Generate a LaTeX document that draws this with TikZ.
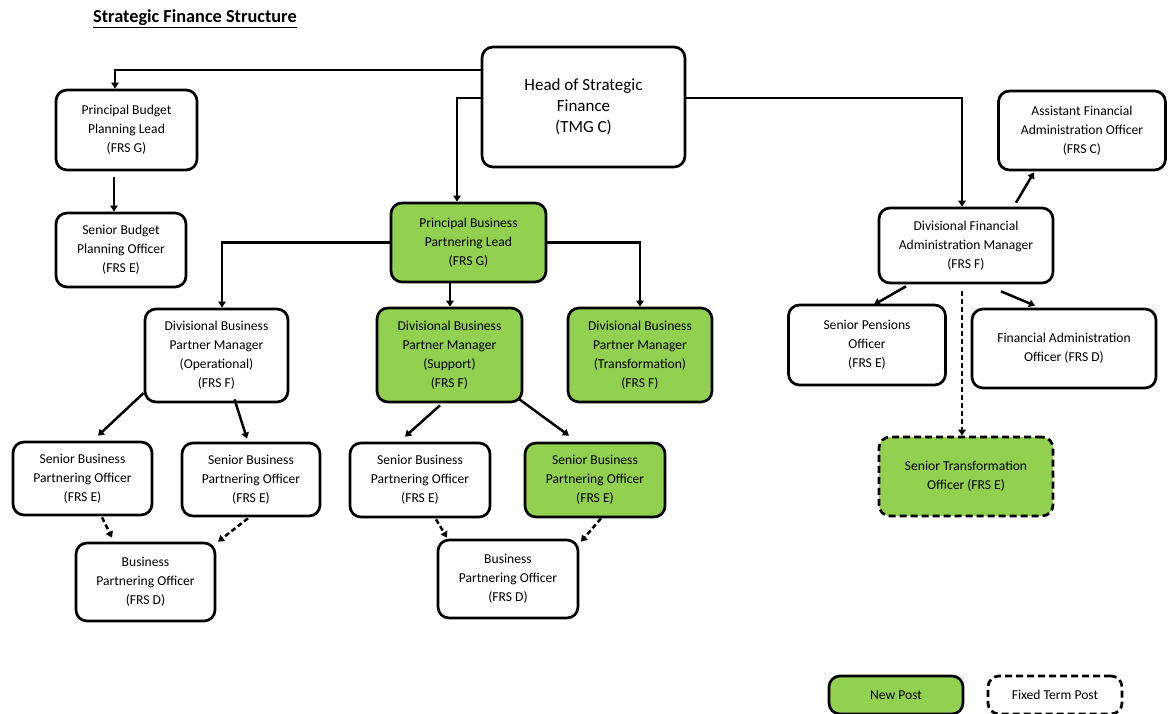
\documentclass[tikz,border=0pt]{standalone}
\usepackage{fontspec}
\setmainfont{Carlito}
\usetikzlibrary{arrows.meta}
\definecolor{newgreen}{HTML}{92D050}
\tikzset{
  box/.style={draw=black, line width=2.7pt, rounded corners=11pt, fill=white, inner sep=0pt, align=center,
    font={\fontsize{13.6}{19}\selectfont}},
  newpost/.style={fill=newgreen},
  fixedterm/.style={dash pattern=on 7pt off 4pt},
  conn/.style={line width=2.5pt, -{Triangle[length=6pt,width=7.5pt]}},
  dconn/.style={conn, dash pattern=on 5pt off 3pt},
}
\begin{document}
\begin{tikzpicture}[x=1pt,y=-1pt]
\useasboundingbox (0,0) rectangle (1168,713);
% title
\node[anchor=west, inner sep=0pt, font={\fontsize{18.3}{20}\selectfont\bfseries}] (title) at (93,19) {\underline{Strategic Finance Structure}};

% nodes
\node[box, minimum width=203pt, minimum height=120pt, font={\fontsize{17}{21}\selectfont}] (head) at (583.5,107) {Head of Strategic\\Finance\\(TMG C)};
\node[box, minimum width=141pt, minimum height=80pt] (pbpl) at (126.5,130) {Principal Budget\\Planning Lead\\(FRS G)};
\node[box, minimum width=130pt, minimum height=74pt] (sbpo) at (121,250) {Senior Budget\\Planning Officer\\(FRS E)};
\node[box, newpost, minimum width=155pt, minimum height=79pt] (pbpart) at (468.5,242.5) {Principal Business\\Partnering Lead\\(FRS G)};
\node[box, minimum width=143pt, minimum height=93pt] (op) at (216.5,355.5) {Divisional Business\\Partner Manager\\(Operational)\\(FRS F)};
\node[box, newpost, minimum width=145pt, minimum height=94pt] (sup) at (449.5,355) {Divisional Business\\Partner Manager\\(Support)\\(FRS F)};
\node[box, newpost, minimum width=144pt, minimum height=94pt] (tra) at (640,355) {Divisional Business\\Partner Manager\\(Transformation)\\(FRS F)};
\node[box, minimum width=139pt, minimum height=73pt] (s1) at (82.5,478.5) {Senior Business\\Partnering Officer\\(FRS E)};
\node[box, minimum width=138pt, minimum height=73pt] (s2) at (251,479.5) {Senior Business\\Partnering Officer\\(FRS E)};
\node[box, minimum width=139pt, minimum height=78pt] (b1) at (145.5,582) {Business\\Partnering Officer\\(FRS D)};
\node[box, minimum width=140pt, minimum height=74pt] (s3) at (420,480) {Senior Business\\Partnering Officer\\(FRS E)};
\node[box, newpost, minimum width=140pt, minimum height=74pt] (s4) at (595,480) {Senior Business\\Partnering Officer\\(FRS E)};
\node[box, minimum width=140pt, minimum height=78pt] (b2) at (508,579) {Business\\Partnering Officer\\(FRS D)};
\node[box, minimum width=174pt, minimum height=75pt] (dfam) at (966,245.5) {Divisional Financial\\Administration Manager\\(FRS F)};
\node[box, minimum width=167pt, minimum height=79pt] (afao) at (1082,130.5) {Assistant Financial\\Administration Officer\\(FRS C)};
\node[box, minimum width=157pt, minimum height=80pt] (spo) at (867,345) {Senior Pensions\\Officer\\(FRS E)};
\node[box, minimum width=184pt, minimum height=79pt] (fao) at (1064,348.5) {Financial Administration\\Officer (FRS D)};
\node[box, newpost, fixedterm, minimum width=174pt, minimum height=79pt] (sto) at (966,476.5) {Senior Transformation\\Officer (FRS E)};
\node[box, newpost, minimum width=134pt, minimum height=38pt] (lnew) at (896,695) {New Post};
\node[box, fixedterm, minimum width=134pt, minimum height=38pt] (lfix) at (1055,695) {Fixed Term Post};

% connectors
\draw[conn] ([yshift=37pt]head.west) -| ([xshift=-11.5pt]pbpl.north);
\draw[conn] ([shift={(-12.5,6)}]pbpl.south) -- ([xshift=-7pt]sbpo.north);
\draw[conn] ([yshift=9pt]head.west) -| ([xshift=-11.5pt]pbpart.north);
\draw[conn] (pbpart.west) -| ([xshift=5.5pt]op.north);
\draw[conn] (pbpart.east) -| (tra.north);
\draw[conn] ([xshift=-18.5pt]pbpart.south) -- ([xshift=0.5pt]sup.north);
\draw[conn] ([yshift=9pt]head.east) -| ([xshift=-4pt]dfam.north);
\draw[conn] ([shift={(50,-4)}]dfam.north) -- ([shift={(-48,1)}]afao.south);
\draw[conn] ([shift={(-60,2)}]dfam.south) -- ([shift={(7,1)}]spo.north);
\draw[conn] ([shift={(35,7)}]dfam.south) -- ([shift={(-29,-2)}]fao.north);
\draw[dconn] ([shift={(-4,7)}]dfam.south) -- ([xshift=-4pt]sto.north);
\draw[conn] ([yshift=-37.5pt]op.west) -- ([shift={(15.5,-5)}]s1.north);
\draw[conn] ([shift={(18,-4)}]op.south) -- ([shift={(-4,-3)}]s2.north);
\draw[conn] ([shift={(-9.5,2)}]sup.south) -- ([shift={(-15,-5)}]s3.north);
\draw[conn] ([shift={(68.5,-5)}]sup.south) -- ([shift={(-26,-6)}]s4.north);
\draw[dconn] ([shift={(19.5,1)}]s1.south) -- ([shift={(-33.5,-4)}]b1.north);
\draw[dconn] ([shift={(-3,1)}]s2.south) -- ([shift={(72.5,0)}]b1.north);
\draw[dconn] ([shift={(16,1)}]s3.south) -- ([shift={(-61,-1)}]b2.north);
\draw[dconn] ([shift={(6,0)}]s4.south) -- ([shift={(73,3)}]b2.north);
\end{tikzpicture}
\end{document}
